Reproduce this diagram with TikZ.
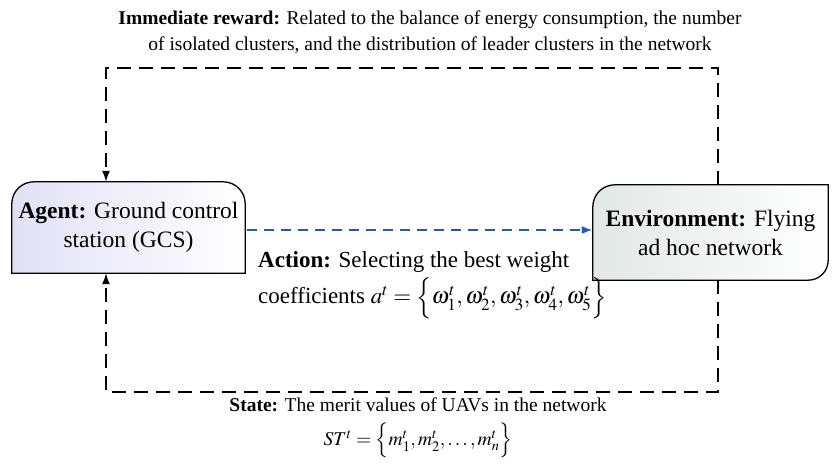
\documentclass[tikz,border=0pt]{standalone}
\usepackage{mathptmx}
\usepackage{fontspec}
\setmainfont{Liberation Serif}
\usetikzlibrary{arrows.meta, backgrounds}
\definecolor{agentfill}{RGB}{226,224,246}
\definecolor{envfill}{RGB}{226,232,230}
\definecolor{actblue}{RGB}{30,90,190}
\tikzset{
  box/.style={align=center, inner sep=0pt, font=\fontsize{23.5}{29}\selectfont},
  frame/.style={draw, line width=1.3pt, shading angle=135, left color=#1, right color=white},
  loop/.style={line width=1.6pt, dash pattern=on 14pt off 8pt, -{Latex[length=11pt,width=8pt]}},
  action/.style={line width=2pt, actblue, dash pattern=on 10pt off 7pt, -{Latex[length=11pt,width=8pt]}},
  lbl/.style={align=center, inner sep=0pt, font=\fontsize{19.5}{26}\selectfont},
  biglbl/.style={align=left, inner sep=0pt, font=\fontsize{23}{24}\selectfont}
}
\begin{document}
\begin{tikzpicture}[x=1pt, y=-1pt]
      \useasboundingbox (0,0) rectangle (833,468);

      \node (agent) [box, minimum width=233pt, minimum height=91pt] at (128.5,227.5) {\textbf{Agent:} Ground control\\station (GCS)};
      \node (env)   [box, minimum width=235pt, minimum height=95pt] at (710.5,232.5) {\textbf{Environment:} Flying\\ad hoc network};

      % boxes with some rounded corners
      \begin{scope}[on background layer]
        \path[frame=agentfill]
          (agent.south west) [rounded corners=22pt] -- (agent.north west) -- (agent.north east) [sharp corners] -- (agent.south east) -- cycle;
        \path[frame=envfill]
          (env.north east) [rounded corners=22pt] -- (env.north west) [sharp corners] -- (env.south west) [rounded corners=20pt] -- (env.south east) [sharp corners] -- cycle;
      \end{scope}

      \coordinate (tl) at (106,68);
      \coordinate (tr) at (718,68);
      \coordinate (bl) at (106,392);
      \coordinate (br) at (718,392);

      \draw [loop] (env.north -| tr) -- (tr) -- (tl) -- (agent.north -| tl);
      \draw [loop] (env.south -| br) -- (br) -- (bl) -- (agent.south -| bl);
      \draw [action] (agent.east) ++(2,2.5) -- (env.west |- {(0,230)});

      \node (reward) [lbl] at (430,32) {\textbf{Immediate reward:} Related to the balance of energy consumption, the number\\of isolated clusters, and the distribution of leader clusters in the network};
      \node (act) [biglbl, anchor=west] at (258,285) {\textbf{Action:} Selecting the best weight\\[4pt]coefficients $a^t=\Bigl\{\omega_1^t,\omega_2^t,\omega_3^t,\omega_4^t,\omega_5^t\Bigr\}$};
      \node (state) [lbl] at (418,428) {\textbf{State:} The merit values of UAVs in the network\\[8pt]$ST^t=\Bigl\{m_1^t,m_2^t,\dots,m_n^t\Bigr\}$};
\end{tikzpicture}
\end{document}
